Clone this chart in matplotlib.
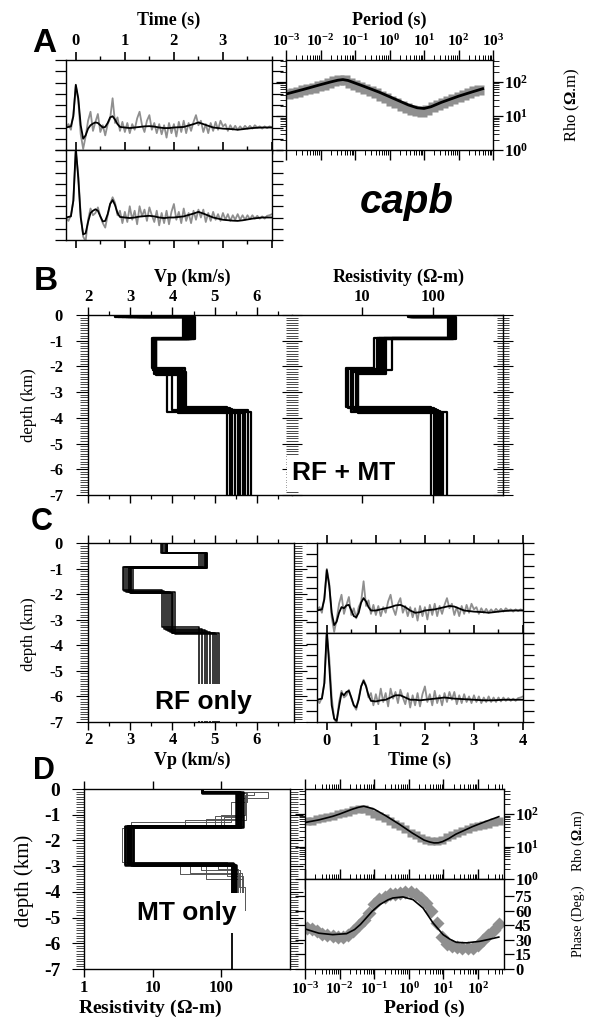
import numpy as np
import matplotlib
matplotlib.use("Agg")
import matplotlib.pyplot as plt
from matplotlib.ticker import (MultipleLocator, FixedLocator, FixedFormatter,
                               LogLocator, LogFormatterMathtext, NullFormatter,
                               NullLocator)

plt.rcParams['font.family'] = ['Liberation Serif', 'DejaVu Serif']
plt.rcParams['font.weight'] = 'bold'
plt.rcParams['mathtext.fontset'] = 'custom'
plt.rcParams['mathtext.rm'] = 'Liberation Serif:bold'
plt.rcParams['axes.unicode_minus'] = False
plt.rcParams['axes.linewidth'] = 1.0
plt.rcParams['xtick.direction'] = 'out'
plt.rcParams['ytick.direction'] = 'out'

W, H = 591, 1018
SANS = 'Liberation Sans'
GRAY = '#8f8f8f'

# ---------------- receiver functions (observed, every 0.05 s from -0.2 to 4.0 s)
rf_time = np.round(np.arange(-0.2, 4.001, 0.05), 2)
rf_obs_top = [
    0.00, 0.03, -0.02, 0.12, 0.37, 0.24, -0.06, -0.19, -0.08, 0.06,
    0.14, -0.03, 0.05, 0.12, -0.04, 0.02, -0.07, 0.03, 0.08, 0.26,
    0.04, 0.09, -0.03, 0.05, -0.04, 0.04, -0.05, 0.03, -0.02, 0.08,
    0.14, 0.02, -0.04, 0.06, 0.11, -0.02, 0.04, -0.05, 0.03, -0.06,
    0.02, -0.09, 0.04, -0.05, 0.03, -0.08, 0.05, -0.04, 0.06, -0.05,
    0.04, -0.03, 0.05, 0.11, 0.02, 0.06, -0.04, 0.03, -0.05, 0.04,
    -0.03, 0.05, -0.02, 0.06, 0.01, 0.03, -0.03, 0.02, -0.02, 0.015,
    -0.02, 0.01, -0.015, 0.015, -0.01, 0.015, -0.01, 0.02, 0.0, 0.01,
    -0.01, 0.01, -0.005, 0.01, 0.0]
rf_obs_bot = [
    0.00, -0.03, 0.02, 0.15, 0.58, 0.38, 0.02, -0.17, -0.21, -0.02,
    0.08, 0.02, 0.04, 0.09, 0.01, -0.05, -0.09, 0.02, 0.12, 0.18,
    0.13, 0.02, 0.06, -0.05, 0.05, -0.04, 0.10, -0.02, 0.06, -0.06,
    0.10, 0.01, 0.07, -0.03, 0.09, 0.02, -0.04, 0.06, -0.07, 0.04,
    -0.05, 0.06, -0.06, 0.05, 0.12, -0.02, 0.05, -0.05, 0.08, -0.03,
    0.04, -0.05, 0.06, -0.02, 0.07, 0.0, 0.07, -0.04, 0.04, -0.03,
    0.05, -0.02, 0.03, -0.03, 0.04, -0.02, 0.03, -0.03, 0.02, -0.02,
    0.03, -0.02, 0.02, -0.02, 0.02, -0.015, 0.02, -0.01, 0.015, -0.01,
    0.01, -0.01, 0.015, 0.02, 0.03]

# predicted receiver functions
pred_time = [-0.2, -0.1, -0.05, 0.0, 0.05, 0.1, 0.15, 0.2, 0.25, 0.3, 0.35, 0.4,
             0.45, 0.5, 0.55, 0.6, 0.65, 0.7, 0.75, 0.8, 0.85, 0.9, 1.0, 1.1,
             1.2, 1.3, 1.4, 1.5, 1.6, 1.7, 1.8, 1.9, 2.0, 2.2, 2.4, 2.5, 2.6,
             2.8, 3.0, 3.2, 3.3, 3.4, 3.6, 3.8, 4.0]
rf_joint_top = [0.0, 0.01, 0.1, 0.38, 0.26, 0.02, -0.1, -0.07, -0.01, 0.02, 0.035,
                0.045, 0.04, 0.02, 0.0, 0.005, 0.04, 0.09, 0.1, 0.07, 0.03, 0.005,
                0.0, -0.005, 0.0, 0.005, 0.01, 0.012, 0.008, 0.0, -0.005, -0.005,
                0.0, 0.005, 0.03, 0.045, 0.03, 0.0, -0.01, -0.015, -0.02, -0.015,
                -0.005, 0.0, 0.0]
rf_joint_bot = [0.0, 0.01, 0.15, 0.62, 0.35, 0.0, -0.15, -0.14, -0.04, 0.04, 0.06,
                0.073, 0.06, 0.01, -0.035, -0.03, 0.03, 0.12, 0.155, 0.11, 0.04,
                0.005, 0.0, -0.005, 0.0, 0.008, 0.012, 0.015, 0.01, 0.0, -0.005,
                0.0, 0.0, 0.01, 0.035, 0.05, 0.035, 0.0, -0.02, -0.028, -0.03,
                -0.025, -0.01, 0.0, 0.0]
rf_only_top = [0.0, 0.01, 0.1, 0.36, 0.22, -0.02, -0.13, -0.1, -0.02, 0.03, 0.02,
               0.045, 0.05, 0.0, -0.05, -0.06, -0.02, 0.07, 0.11, 0.08, 0.03, 0.0,
               0.0, 0.01, 0.02, 0.03, 0.045, 0.05, 0.03, 0.0, -0.02, -0.015, 0.0,
               0.01, 0.03, 0.04, 0.035, 0.0, -0.01, -0.015, -0.02, -0.015, -0.005,
               0.0, 0.0]
rf_only_bot = [0.0, 0.01, 0.15, 0.63, 0.3, -0.05, -0.17, -0.19, -0.06, 0.06, 0.04,
               0.07, 0.08, 0.02, -0.05, -0.07, 0.0, 0.12, 0.17, 0.12, 0.04, -0.01,
               -0.015, -0.005, 0.0, 0.02, 0.04, 0.04, 0.02, 0.0, 0.0, -0.005, 0.0,
               0.01, 0.02, 0.015, 0.01, 0.005, 0.0, -0.005, -0.005, -0.005, 0.0,
               0.0, 0.0]

# ---------------- magnetotellurics (log10 period)
mt_logT = [-2.95, -2.8, -2.65, -2.5, -2.35, -2.2, -2.05, -1.9, -1.75, -1.6,
           -1.45, -1.3, -1.15, -1.0, -0.85, -0.7, -0.55, -0.4, -0.25, -0.1,
           0.05, 0.2, 0.35, 0.5, 0.65, 0.8, 0.95, 1.1, 1.25, 1.4,
           1.55, 1.7, 1.85, 2.0, 2.15, 2.3, 2.45, 2.6]
rho_obs_A = [43, 47, 51, 56, 62, 68, 74, 83, 91, 107,
             117, 115, 93, 81, 71, 62, 54, 46, 39, 33,
             28, 24, 20, 17.4, 15.1, 13.8, 13.5, 15.1, 17.8, 20.9,
             24.5, 28.2, 32.4, 37.2, 41.7, 46.8, 52.5, 58.9]
rho_obs_D = [59, 63, 68, 74, 81, 89, 98, 107, 117, 129,
             141, 138, 120, 100, 87, 74, 62, 51, 44, 35,
             27, 22, 18, 16, 15, 14.5, 15.5, 19, 22, 26,
             30, 34, 39, 43, 47, 51, 56, 62]
phase_obs_D = [42.5, 41, 39, 36.5, 35, 34, 33.5, 33, 35, 39,
               45, 51, 58, 67, 72, 74.5, 77, 78, 78.6, 79.5,
               80, 77.5, 73, 68, 60, 48, 33, 26, 23.5, 22.5,
               21.5, 21.5, 22, 25, 30, 35, 40, 46.5]

joint_logT = [-3.0, -2.5, -2.0, -1.7, -1.5, -1.35, -1.2, -0.8, -0.3, 0.2, 0.55,
              0.8, 1.0, 1.2, 1.5, 2.0, 2.4, 2.7]
rho_joint = [44, 60, 83, 100, 112, 117, 110, 78, 50, 30, 21, 17.4, 16.6, 18.6,
             25, 38, 51, 63]

mtonly_logT = [-3.0, -2.6, -2.2, -2.0, -1.63, -1.45, -1.3, -1.15, -1.0, -0.67,
               -0.28, 0.1, 0.44, 0.6, 0.73, 0.85, 0.97, 1.15, 1.36, 1.84, 2.22, 2.6]
rho_mtonly = [55, 66, 85, 100, 141, 162, 174, 158, 141, 89, 49, 26, 15.8, 13.8,
              12.9, 13.0, 14.1, 17.5, 24, 41, 59, 83]
phase_logT = [-3.0, -2.6, -2.2, -1.8, -1.57, -1.4, -1.23, -1.05, -0.84, -0.6,
              -0.46, -0.17, 0.12, 0.41, 0.7, 0.99, 1.2, 1.37, 1.66, 2.05, 2.3, 2.6]
phase_mtonly = [41.4, 37, 35.5, 36.5, 40.7, 46, 52.8, 60, 66.5, 71.5, 73.4, 74.5,
                71.7, 63, 47.6, 35.5, 30.5, 27.6, 27, 28.6, 30.5, 33]

# ---------------- layered models: interface depths (km) and layer values
vp_joint_bounds = [[0.06, 0.90, 2.08, 3.58], [0.07, 0.91, 2.12, 3.62],
                   [0.08, 0.92, 2.15, 3.65], [0.07, 0.93, 2.18, 3.68],
                   [0.08, 0.94, 2.22, 3.72], [0.09, 0.92, 2.25, 3.75],
                   [0.08, 0.95, 2.28, 3.78], [0.07, 0.93, 2.32, 3.80],
                   [0.08, 0.94, 2.30, 3.70], [0.06, 0.92, 2.26, 3.76]]
vp_joint_vals = [[2.65, 4.26, 3.52, 4.30, 5.30], [2.80, 4.30, 3.54, 4.25, 5.36],
                 [2.95, 4.34, 3.55, 4.20, 5.42], [3.10, 4.38, 3.57, 4.15, 5.48],
                 [3.20, 4.42, 3.58, 4.32, 5.54], [3.30, 4.46, 3.60, 4.28, 5.60],
                 [2.70, 4.50, 3.61, 4.22, 5.66], [3.00, 4.54, 3.62, 4.12, 5.72],
                 [2.90, 4.40, 3.56, 3.98, 5.78], [3.15, 4.44, 3.59, 3.86, 5.85]]

res_joint_bounds = [[0.07, 0.88, 2.05, 3.58], [0.08, 0.90, 2.10, 3.62],
                    [0.07, 0.91, 2.15, 3.66], [0.08, 0.92, 2.20, 3.70],
                    [0.09, 0.90, 2.25, 3.74], [0.08, 0.93, 2.30, 3.78],
                    [0.07, 0.91, 2.12, 3.80], [0.08, 0.92, 2.18, 3.76]]
res_joint_vals = [[45, 165, 14.5, 5.8, 95], [48, 175, 16, 6.3, 103],
                  [50, 185, 17.5, 6.8, 110], [52, 195, 19, 7.4, 118],
                  [46, 205, 20.5, 8.0, 126], [49, 215, 22, 8.6, 134],
                  [47, 190, 26, 8.8, 140], [51, 200, 18, 7.0, 160]]

vp_rf_bounds = [[0.38, 0.93, 1.85, 3.30], [0.39, 0.94, 1.88, 3.35],
                [0.40, 0.95, 1.90, 3.40], [0.39, 0.96, 1.92, 3.45],
                [0.40, 0.97, 1.93, 3.48], [0.41, 0.95, 1.94, 3.50],
                [0.40, 0.96, 1.95, 3.52], [0.41, 0.97, 1.92, 3.55],
                [0.40, 0.96, 1.94, 3.50]]
vp_rf_vals = [[3.72, 4.64, 2.83, 3.76, 4.64], [3.75, 4.68, 2.86, 3.80, 4.70],
              [3.78, 4.72, 2.90, 3.85, 4.76], [3.82, 4.76, 2.95, 3.90, 4.82],
              [3.85, 4.78, 2.98, 3.95, 4.90], [3.86, 4.80, 3.00, 3.98, 4.95],
              [3.87, 4.81, 3.03, 4.02, 5.00], [3.88, 4.82, 3.06, 4.05, 5.05],
              [3.86, 4.80, 3.02, 4.00, 5.10]]

res_mt_bounds = [[0.12, 1.42, 2.88], [0.13, 1.44, 2.90], [0.13, 1.46, 2.92],
                 [0.14, 1.47, 2.94], [0.13, 1.48, 2.96], [0.12, 1.45, 2.95]]
res_mt_vals = [[53, 165, 4.3, 150], [53, 175, 4.5, 142], [53, 185, 4.7, 152],
               [53, 195, 4.9, 158], [53, 205, 5.1, 165], [53, 190, 4.0, 155]]
res_mt_thin_bounds = [[0.10, 0.35, 1.15, 1.45, 2.90, 3.25],
                      [0.12, 1.05, 1.40, 2.95, 3.10],
                      [0.13, 1.20, 1.50, 2.85, 3.40],
                      [0.14, 0.50, 1.30, 2.92, 3.30, 3.80],
                      [0.10, 1.10, 1.48, 2.88, 3.15],
                      [0.12, 0.25, 1.00, 1.42, 2.93, 3.50]]
res_mt_thin_vals = [[53, 480, 190, 60, 3.8, 35, 200],
                    [53, 210, 80, 4.2, 90, 175],
                    [53, 230, 30, 3.6, 120, 210],
                    [53, 240, 140, 4.8, 25, 180, 220],
                    [53, 200, 110, 5.3, 50, 190],
                    [53, 300, 220, 100, 4.4, 60, 205]]
res_mt_best_bounds = [0.13, 1.44, 2.90]
res_mt_best_vals = [53, 175, 4.5, 142]
mt_model_base = 4.7


def staircase(bounds, vals, zmax=7.0):
    edges = [0.0] + list(bounds) + [zmax]
    xs, ys = [], []
    for i, v in enumerate(vals):
        xs += [v, v]
        ys += [-edges[i], -edges[i + 1]]
    return xs, ys


fig = plt.figure(figsize=(W / 100, H / 100), dpi=100)


def add_ax(left, top, right, bottom):
    return fig.add_axes([left / W, 1 - bottom / H, (right - left) / W, (bottom - top) / H])


def ftext(x, y, s, **kw):
    fig.text(x / W, 1 - y / H, s, **kw)


def depth_axis(ax, labelsize=12, pad=9, left=True, right=True, labels=True):
    ax.set_ylim(-7, 0)
    ax.yaxis.set_major_locator(MultipleLocator(1))
    ax.yaxis.set_minor_locator(MultipleLocator(0.1))
    ax.tick_params(axis='y', which='major', length=9, width=0.8, labelsize=labelsize,
                   pad=pad, left=left, right=right, labelleft=labels)
    ax.tick_params(axis='y', which='minor', length=6, width=0.5, left=left, right=right)


def rf_axis(ax, top_labels=False, bottom_labels=False):
    ax.set_xlim(-0.2, 4.0)
    ax.set_ylim(-0.2, 0.6)
    ax.xaxis.set_major_locator(MultipleLocator(1))
    ax.xaxis.set_minor_locator(MultipleLocator(0.5))
    ax.yaxis.set_major_locator(MultipleLocator(0.1))
    ax.tick_params(axis='x', which='major', length=6, width=1.2, top=True, bottom=True,
                   labeltop=top_labels, labelbottom=bottom_labels, labelsize=12, pad=2)
    ax.tick_params(axis='x', which='minor', length=3, width=1.0, top=True, bottom=True)
    ax.tick_params(axis='y', which='major', length=8, width=0.9, left=True, right=True,
                   labelleft=False)


def rf_traces(ax, obs, pred):
    ax.plot(rf_time, obs, color=GRAY, lw=1.3)
    ax.plot(pred_time, pred, color='black', lw=1.3)


def log_period_axis(ax, xmax):
    ax.set_xscale('log')
    ax.set_xlim(1e-3, xmax)
    ax.xaxis.set_major_locator(LogLocator(base=10, numticks=20))
    ax.xaxis.set_minor_locator(LogLocator(base=10, subs=np.arange(2, 10), numticks=20))
    ax.xaxis.set_major_formatter(LogFormatterMathtext())
    ax.xaxis.set_minor_formatter(NullFormatter())
    ax.tick_params(axis='x', which='major', length=7, width=1.0, top=True, bottom=True)
    ax.tick_params(axis='x', which='minor', length=3.5, width=0.7, top=True, bottom=True)


def rho_axis(ax, ymax):
    ax.set_yscale('log')
    ax.set_ylim(1, ymax)
    ax.yaxis.set_major_locator(LogLocator(base=10, numticks=10))
    ax.yaxis.set_minor_locator(LogLocator(base=10, subs=np.arange(2, 10), numticks=10))
    ax.yaxis.set_major_formatter(LogFormatterMathtext())
    ax.yaxis.set_minor_formatter(NullFormatter())
    ax.tick_params(axis='y', which='major', length=7, width=0.9, left=True, right=True,
                   labelleft=False, labelright=True, labelsize=12, pad=1)
    ax.tick_params(axis='y', which='minor', length=4, width=0.6, left=True, right=True)


# ======================= Panel A
axA1 = add_ax(66, 60, 272, 150)
axA2 = add_ax(66, 150, 272, 240)
for ax, obs, pred in ((axA1, rf_obs_top, rf_joint_top), (axA2, rf_obs_bot, rf_joint_bot)):
    rf_axis(ax, top_labels=(ax is axA1))
    rf_traces(ax, obs, pred)
axA1.xaxis.set_major_locator(FixedLocator([0, 1, 2, 3]))
axA1.tick_params(axis='x', labelsize=12)

axA3 = add_ax(286, 60, 493, 150)
log_period_axis(axA3, 1e3)
rho_axis(axA3, 440)
axA3.tick_params(axis='x', labeltop=True, labelbottom=False, labelsize=11, pad=1)
axA3.plot(10 ** np.array(mt_logT), rho_obs_A, 's', color=GRAY, ms=6.5, mec='none')
axA3.plot(10 ** np.array(joint_logT), rho_joint, color='black', lw=2.0)

ftext(44, 44, 'A', family=SANS, fontsize=24, fontweight='bold', ha='center', va='center')
ftext(169, 20, 'Time (s)', fontsize=13, ha='center', va='center')
ftext(389, 20, 'Period (s)', fontsize=13, ha='center', va='center')
ftext(572, 105, r'Rho ($\Omega$.m)', fontsize=12, fontweight='normal', rotation=90,
      ha='center', va='center')
ftext(407, 202, 'capb', family=SANS, fontsize=29, fontweight='bold', style='italic',
      ha='center', va='center')

# ======================= Panel B
axB1 = add_ax(88, 315, 292, 495)
axB1.set_xlim(2, 6.83)
depth_axis(axB1, right=False)
axB1.spines['right'].set_visible(False)
axB1.xaxis.set_major_locator(MultipleLocator(1))
axB1.xaxis.set_minor_locator(MultipleLocator(0.5))
axB1.tick_params(axis='x', which='major', length=6, width=1.0, top=True, bottom=True,
                 labeltop=True, labelbottom=False, labelsize=12, pad=1)
axB1.tick_params(axis='x', which='minor', length=3, width=0.9, top=True, bottom=True)
for b, v in zip(vp_joint_bounds, vp_joint_vals):
    xs, ys = staircase(b, v)
    axB1.plot(xs, ys, color='black', lw=1.6)

axB2 = add_ax(292, 315, 503, 495)
axB2.set_xscale('log')
axB2.set_xlim(1, 1000)
axB2.spines['left'].set_visible(False)
axB2.set_ylim(-7, 0)
axB2.yaxis.set_major_locator(MultipleLocator(1))
axB2.yaxis.set_minor_locator(MultipleLocator(0.1))
axB2.tick_params(axis='y', which='major', direction='inout', length=14, width=0.8,
                 left=True, right=True, labelleft=False)
axB2.tick_params(axis='y', which='minor', direction='inout', length=8, width=0.5,
                 left=True, right=True)
axB2.xaxis.set_major_locator(FixedLocator([10, 100]))
axB2.xaxis.set_major_formatter(FixedFormatter(['10', '100']))
axB2.xaxis.set_minor_locator(NullLocator())
axB2.tick_params(axis='x', length=6, width=1.0, top=True, bottom=True, labeltop=True,
                 labelbottom=False, labelsize=12, pad=1)
for b, v in zip(res_joint_bounds, res_joint_vals):
    xs, ys = staircase(b, v)
    axB2.plot(xs, ys, color='black', lw=1.6)
axB2.text(0.0, 0.12, 'RF + MT', transform=axB2.transAxes, family=SANS, fontsize=19,
          fontweight='bold', ha='left', va='center',
          bbox=dict(boxstyle='square,pad=0.2', fc='white', ec='none'))

ftext(46, 282, 'B', family=SANS, fontsize=24, fontweight='bold', ha='center', va='center')
ftext(192, 277, 'Vp (km/s)', fontsize=13, ha='center', va='center')
ftext(399, 277, r'Resistivity ($\Omega$-m)', fontsize=13, ha='center', va='center')
ftext(29, 405, 'depth (km)', fontsize=12, fontweight='normal', rotation=90,
      ha='center', va='center')

# ======================= Panel C
axC1 = add_ax(88, 543, 294, 722)
axC1.set_xlim(2, 6.88)
depth_axis(axC1)
axC1.xaxis.set_major_locator(MultipleLocator(1))
axC1.xaxis.set_minor_locator(MultipleLocator(0.5))
axC1.tick_params(axis='x', which='major', length=6, width=1.0, top=True, bottom=True,
                 labeltop=False, labelbottom=True, labelsize=12, pad=1)
axC1.tick_params(axis='x', which='minor', length=3, width=0.9, top=True, bottom=True)
for b, v in zip(vp_rf_bounds, vp_rf_vals):
    xs, ys = staircase(b, v)
    axC1.plot(xs, ys, color='black', lw=1.1)
axC1.text(0.56, 0.11, 'RF only', transform=axC1.transAxes, family=SANS, fontsize=19,
          fontweight='bold', ha='center', va='center',
          bbox=dict(boxstyle='square,pad=0.25', fc='white', ec='none'))

axC2 = add_ax(317, 543, 523, 633)
axC3 = add_ax(317, 633, 523, 722)
rf_axis(axC2)
rf_axis(axC3, bottom_labels=True)
rf_traces(axC2, rf_obs_top, rf_only_top)
rf_traces(axC3, rf_obs_bot, rf_only_bot)

ftext(42, 522, 'C', family=SANS, fontsize=22, fontweight='bold', ha='center', va='center')
ftext(29, 634, 'depth (km)', fontsize=12, fontweight='normal', rotation=90,
      ha='center', va='center')
ftext(192, 760, 'Vp (km/s)', fontsize=13, ha='center', va='center')
ftext(420, 760, 'Time (s)', fontsize=13, ha='center', va='center')

# ======================= Panel D
axD1 = add_ax(84, 789, 290, 969)
axD1.set_xscale('log')
axD1.set_xlim(1, 1000)
depth_axis(axD1, labelsize=14, pad=8)
axD1.xaxis.set_major_locator(FixedLocator([1, 10, 100]))
axD1.xaxis.set_major_formatter(FixedFormatter(['1', '10', '100']))
axD1.xaxis.set_minor_locator(NullLocator())
axD1.tick_params(axis='x', length=6, width=1.0, top=True, bottom=True, labelsize=12, pad=2)
for b, v in zip(res_mt_thin_bounds, res_mt_thin_vals):
    xs, ys = staircase(b, v, mt_model_base)
    axD1.plot(xs, ys, color='#555555', lw=0.7)
for b, v in zip(res_mt_bounds, res_mt_vals):
    xs, ys = staircase(b, v, mt_model_base)
    axD1.plot(xs, ys, color='black', lw=1.8)
xs, ys = staircase(res_mt_best_bounds, res_mt_best_vals)
axD1.plot(xs, ys, color='black', lw=1.3)
axD1.text(0.5, 0.31, 'MT only', transform=axD1.transAxes, family=SANS, fontsize=19,
          fontweight='bold', ha='center', va='center',
          bbox=dict(boxstyle='square,pad=0.3', fc='white', ec='none'))

axD2 = add_ax(305, 789, 504, 879)
axD3 = add_ax(305, 879, 504, 969)
log_period_axis(axD2, 10 ** 2.75)
log_period_axis(axD3, 10 ** 2.75)
axD2.tick_params(axis='x', labelbottom=False)
axD3.tick_params(axis='x', labelbottom=True, labelsize=11, pad=2)
rho_axis(axD2, 590)
axD2.plot(10 ** np.array(mt_logT), rho_obs_D, 's', color=GRAY, ms=6, mec='none')
axD2.plot(10 ** np.array(mtonly_logT), rho_mtonly, color='black', lw=1.2)

axD3.set_ylim(0, 93)
axD3.yaxis.set_major_locator(FixedLocator([0, 15, 30, 45, 60, 75]))
axD3.tick_params(axis='y', length=7, width=0.9, left=True, right=True, labelleft=False,
                 labelright=True, labelsize=12, pad=1)
axD3.plot(10 ** np.array(mt_logT), phase_obs_D, 'D', color=GRAY, ms=7, mec='none')
axD3.plot(10 ** np.array(phase_logT), phase_mtonly, color='black', lw=1.2)

ftext(44, 771, 'D', family=SANS, fontsize=22, fontweight='bold', ha='center', va='center')
ftext(24, 881, 'depth (km)', fontsize=15, fontweight='normal', rotation=90,
      ha='center', va='center')
ftext(150, 1008, r'Resistivity ($\Omega$-m)', fontsize=14, ha='center', va='center')
ftext(424, 1008, 'Period (s)', fontsize=14, ha='center', va='center')
ftext(578, 841, r'Rho ($\Omega$.m)', fontsize=10, fontweight='normal', rotation=90,
      ha='center', va='center')
ftext(578, 921, 'Phase (Deg.)', fontsize=10, fontweight='normal', rotation=90,
      ha='center', va='center')

fig.savefig('out.png', dpi=100)
